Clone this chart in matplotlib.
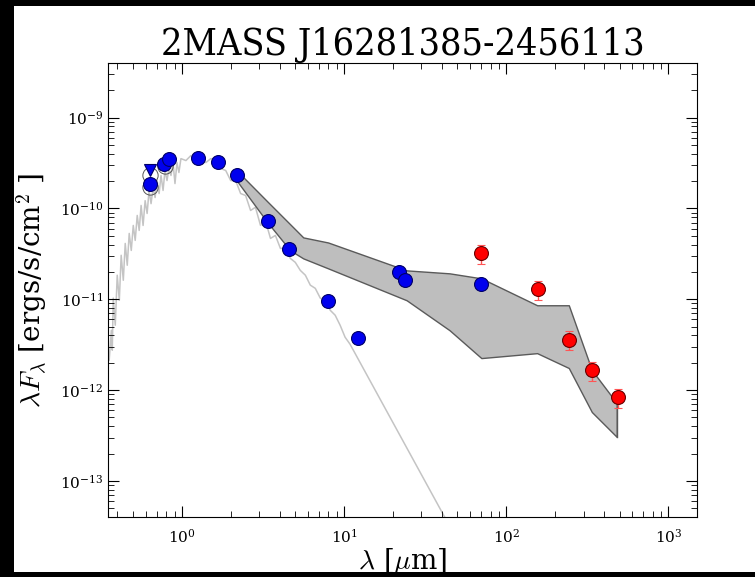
import numpy as np
import matplotlib
matplotlib.use("Agg")
import matplotlib.pyplot as plt
from matplotlib.patches import Rectangle

plt.rcParams["font.family"] = ["DejaVu Serif"]
plt.rcParams["mathtext.fontset"] = "cm"

title = "2MASS J16281385-2456113"

# Stellar photosphere model (lambda in micron, lambda*F_lambda in erg/s/cm^2)
phot_wave = [0.356, 0.367, 0.372, 0.377, 0.388, 0.399, 0.411, 0.422, 0.435, 0.447,
             0.460, 0.473, 0.487, 0.501, 0.515, 0.530, 0.545, 0.560, 0.576, 0.593,
             0.610, 0.627, 0.645, 0.664, 0.683, 0.703, 0.723, 0.743, 0.765, 0.786,
             0.809, 0.832, 0.856, 0.881, 0.906, 0.932, 0.958, 0.986, 1.058, 1.135,
             1.219, 1.31, 1.404, 1.506, 1.617, 1.735, 1.862, 1.998, 2.144, 2.301,
             2.47, 2.65, 2.84, 3.052, 3.27, 3.516, 3.77, 4.049, 4.35, 4.66,
             5.0, 5.37, 5.77, 6.19, 6.64, 7.13, 7.65, 8.21, 8.81, 9.45,
             10.14, 10.88, 41.6]
phot_flux = [2.14e-12, 4.56e-12, 2.75e-12, 1.03e-11, 5.18e-12, 1.84e-11, 9.75e-12, 3.05e-11, 1.62e-11, 4.12e-11,
             2.37e-11, 5.31e-11, 3.45e-11, 6.50e-11, 4.45e-11, 8.38e-11, 5.73e-11, 1.08e-10, 6.50e-11, 1.22e-10,
             8.81e-11, 1.58e-10, 1.13e-10, 1.70e-10, 1.32e-10, 2.03e-10, 1.46e-10, 2.31e-10, 1.58e-10, 2.62e-10,
             2.03e-10, 2.75e-10, 2.31e-10, 3.20e-10, 1.88e-10, 3.20e-10, 2.49e-10, 3.54e-10, 3.37e-10, 3.82e-10,
             3.54e-10, 3.82e-10, 3.20e-10, 3.54e-10, 3.37e-10, 2.75e-10, 2.62e-10, 2.03e-10, 2.03e-10, 1.46e-10,
             1.39e-10, 9.51e-11, 1.03e-10, 6.50e-11, 7.38e-11, 4.68e-11, 5.05e-11, 3.63e-11, 3.63e-11, 2.82e-11,
             2.55e-11, 2.08e-11, 1.84e-11, 1.43e-11, 1.32e-11, 1.03e-11, 9.75e-12, 7.57e-12, 6.67e-12, 5.18e-12,
             3.82e-12, 3.20e-12, 4.02e-14]

# Disk model envelope
band_wave = [2.175, 3.37, 4.66, 5.60, 7.97, 24.3, 44.7, 70.2, 155, 243, 337, 480]
band_upper = [2.62e-10, 1.19e-10, 6.67e-11, 4.80e-11, 4.22e-11, 2.08e-11, 1.93e-11, 1.70e-11,
              8.59e-12, 8.59e-12, 1.66e-12, 7.19e-13]
band_lower = [2.03e-10, 7.02e-11, 3.45e-11, 2.82e-11, 2.19e-11, 9.75e-12, 4.56e-12, 2.25e-12,
              2.55e-12, 1.75e-12, 5.73e-13, 3.05e-13]

# Photometry
blue_wave = [0.637, 0.775, 0.832, 1.25, 1.66, 2.17, 3.37, 4.6, 7.97, 12.2, 21.8, 23.7, 70.2]
blue_flux = [1.88e-10, 3.12e-10, 3.54e-10, 3.64e-10, 3.28e-10, 2.31e-10, 7.2e-11, 3.55e-11,
             9.6e-12, 3.7e-12, 1.98e-11, 1.62e-11, 1.47e-11]
limit_wave = [0.637]
limit_flux = [2.62e-10]
model_wave = [0.637, 0.637, 0.79]
model_flux = [2.35e-10, 1.72e-10, 2.9e-10]

red_wave = [70.0, 157, 243, 336, 488]
red_flux = [3.2e-11, 1.29e-11, 3.6e-12, 1.65e-12, 8.3e-13]
red_err = [7.4e-12, 3.0e-12, 8.3e-13, 3.8e-13, 1.9e-13]

fig = plt.figure(figsize=(7.55, 5.77), dpi=100, facecolor="white")
ax = fig.add_axes([108 / 755, 1 - 517 / 577, (697 - 108) / 755, (517 - 63) / 577])

ax.plot(phot_wave, phot_flux, color="#c4c4c4", lw=1.1, zorder=1)
ax.fill_between(band_wave, band_lower, band_upper, facecolor="#bebebe",
                edgecolor="#5a5a5a", lw=1.0, zorder=2)
ax.plot([band_wave[-1], band_wave[-1]], [band_lower[-1], band_upper[-1]], color="#5a5a5a", lw=1.0, zorder=2)

ax.plot(model_wave, model_flux, "o", ms=11, mfc="none", mec="#555555", mew=0.7, zorder=3)
ax.plot(blue_wave, blue_flux, "o", ms=10, mfc="#0000ee", mec="#000066", mew=0.8, zorder=4)
ax.plot(limit_wave, limit_flux, "v", ms=9, mfc="#0000ee", mec="#000066", mew=0.8, zorder=4)
ax.errorbar(red_wave, red_flux, yerr=red_err, fmt="o", ms=10, mfc="#ff0000", mec="#660000",
            mew=0.8, ecolor="#ff5555", elinewidth=1.0, capsize=3, zorder=4)

ax.set_xscale("log")
ax.set_yscale("log")
ax.set_xlim(0.35, 1500)
ax.set_ylim(4e-14, 4e-9)
ax.tick_params(which="both", direction="in", top=True, right=True, labelsize=11)
ax.tick_params(which="major", length=8)
ax.tick_params(which="minor", length=4)
ax.xaxis.set_tick_params(pad=8)

ax.set_title(title, fontsize=27, fontstretch="condensed", pad=4)
ax.set_xlabel(r"$\lambda$ [$\mu$m]", fontsize=20, labelpad=0)
ax.set_ylabel(r"$\lambda F_\lambda$ [ergs/s/cm$^2$ ]", fontsize=20, labelpad=8)

# black frame around the canvas
for x0, y0, w, h in [(0, 0, 14 / 755, 1), (0, 1 - 6 / 577, 1, 6 / 577), (0, 0, 1, 5 / 577)]:
    fig.add_artist(Rectangle((x0, y0), w, h, transform=fig.transFigure,
                             facecolor="black", edgecolor="none", zorder=10))

fig.savefig("out.png", dpi=100, facecolor="white")
